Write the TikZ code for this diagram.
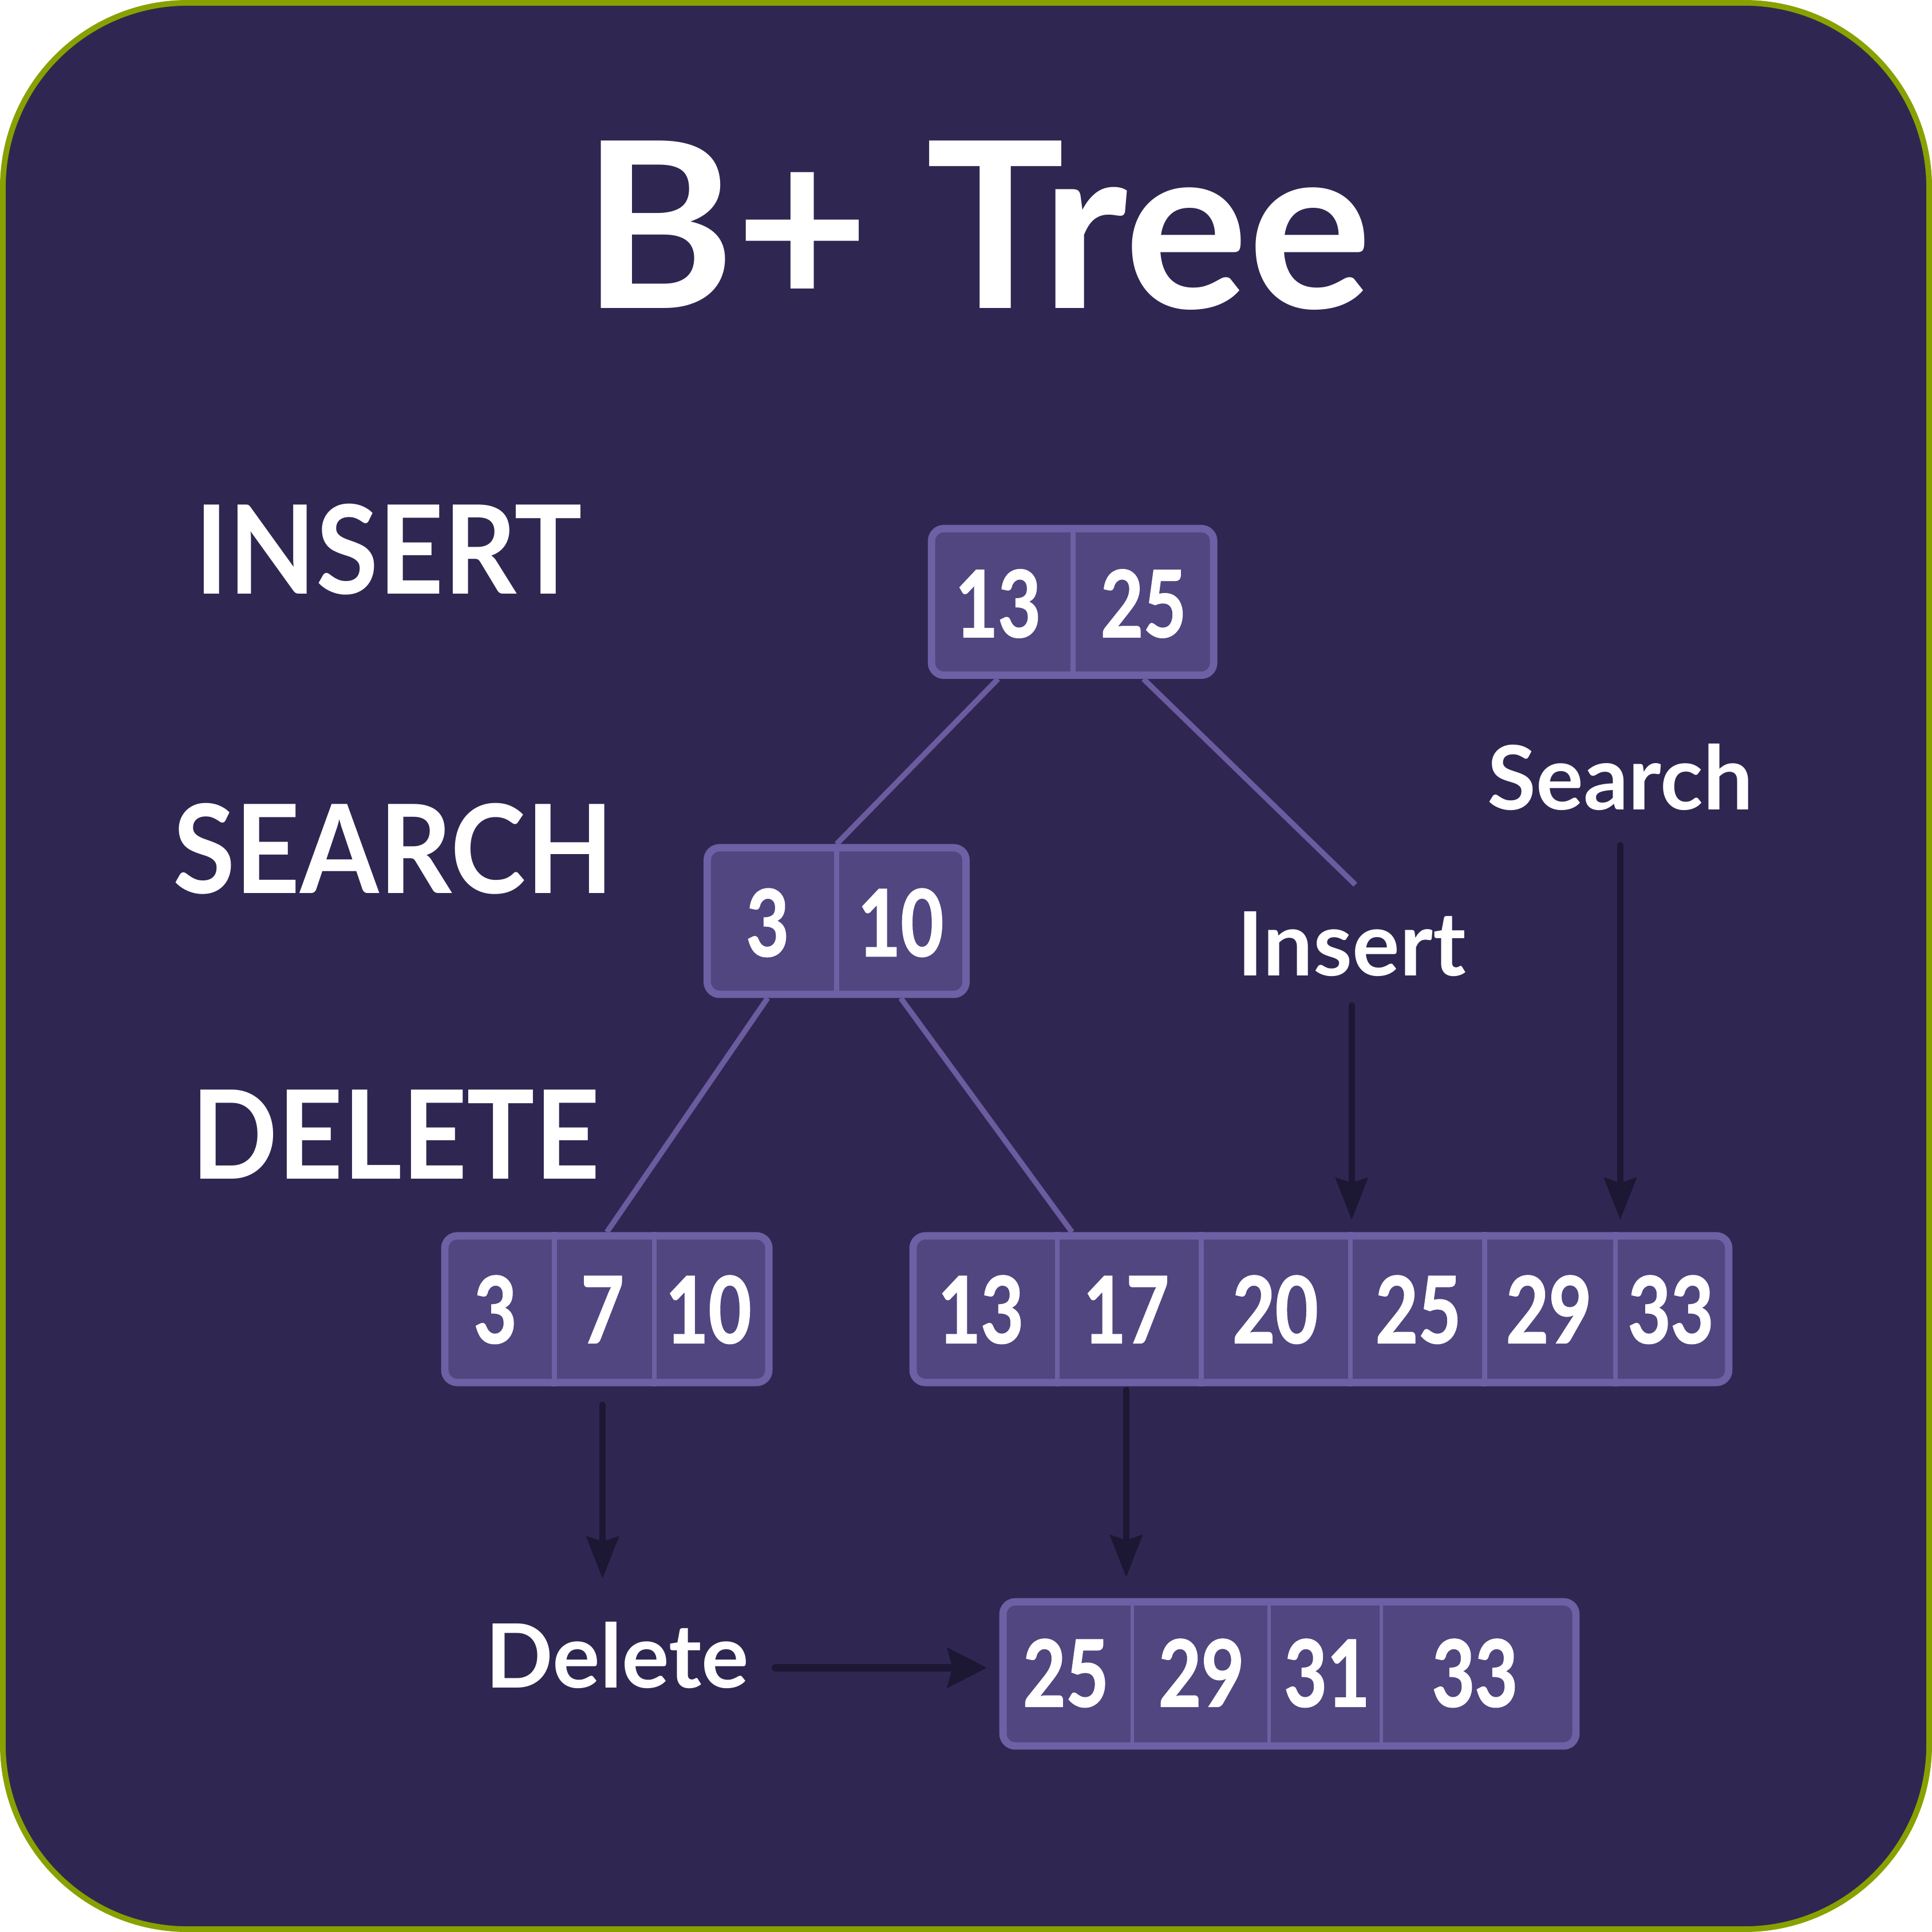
\documentclass[tikz,border=0pt]{standalone}
\usepackage{fontspec}
\setmainfont{Lato}
\newfontfamily\digitfont{Lato}[FakeStretch=0.8, FakeBold=1.2]
\newfontfamily\capsfont{Lato}[FakeStretch=0.92]
\usetikzlibrary{calc,arrows.meta}
\definecolor{bgcol}{HTML}{2F2752}
\definecolor{olive}{HTML}{88A100}
\definecolor{nodefill}{HTML}{524680}
\definecolor{nodeedge}{HTML}{6E60A4}
\definecolor{treecol}{HTML}{6A5C9E}
\definecolor{arrcol}{HTML}{1C1733}
\tikzset{
  keybox/.style={draw=nodeedge, line width=3pt, fill=nodefill, rounded corners=5pt, inner sep=0pt, minimum height=59.5pt},
  keytext/.style={text=white, font=\digitfont\bfseries\fontsize{37.5}{40}\selectfont, anchor=base, inner sep=0pt},
  divider/.style={draw=nodeedge, line width=2pt},
  tline/.style={draw=treecol, line width=2.2pt},
  vArr/.style={draw=arrcol, line width=2.5pt, line cap=round, -{Stealth[length=17pt, width=13pt, inset=2pt]}},
  hArr/.style={draw=arrcol, line width=3pt, line cap=round, -{Stealth[length=16pt, width=16pt, inset=2pt]}},
  bigcaps/.style={text=white, font=\capsfont\bfseries\fontsize{50}{55}\selectfont, inner sep=0pt},
  oplabel/.style={text=white, font=\bfseries\fontsize{36}{40}\selectfont, inner sep=0pt, anchor=base},
}
\begin{document}
\begin{tikzpicture}[x=0.5pt, y=-0.5pt]
\useasboundingbox (0,0) rectangle (1568,1568);
\fill[white] (0,0) rectangle (1568,1568);
\draw[draw=olive, fill=bgcol, line width=2.3pt, rounded corners=75pt] (2.3,2.3) rectangle (1565.7,1565.7);

% title and side labels
\node[text=white, font=\bfseries\fontsize{94}{100}\selectfont, inner sep=0pt, anchor=base] (title) at (793,250) {B+ Tree};
\node[bigcaps, anchor=base west] (lins) at (158,482) {INSERT};
\node[bigcaps, anchor=base west] (lsea) at (140,725) {SEARCH};
\node[bigcaps, anchor=base west] (ldel) at (155,957) {DELETE};

% root
\node[keybox, minimum width=114.5pt] (root) at (870.5,488.5) {};
\draw[divider] (871,0 |- root.north) -- (871,0 |- root.south);
\node[keytext] (r13) at (810,517) {13};
\node[keytext] (r25) at (928,517) {25};

% internal
\node[keybox, minimum width=105pt] (int) at (679,747.5) {};
\draw[divider] (679,0 |- int.north) -- (679,0 |- int.south);
\node[keytext] (i3) at (623,776) {3};
\node[keytext] (i10) at (731,776) {10};

% leaf 1
\node[keybox, minimum width=131.5pt] (leaf1) at (492.5,1062.5) {};
\foreach \x in {450,531} \draw[divider] (\x,0 |- leaf1.north) -- (\x,0 |- leaf1.south);
\node[keytext] (la3) at (402,1090) {3};
\node[keytext] (la7) at (489,1090) {7};
\node[keytext] (la10) at (575,1090) {10};

% leaf 2
\node[keybox, minimum width=331pt] (leaf2) at (1072,1062.5) {};
\foreach \x in {858,975,1096,1205,1311} \draw[divider] (\x,0 |- leaf2.north) -- (\x,0 |- leaf2.south);
\node[keytext] (lb13) at (796,1090) {13};
\node[keytext] (lb17) at (914,1090) {17};
\node[keytext] (lb20) at (1035,1090) {20};
\node[keytext] (lb25) at (1151,1090) {25};
\node[keytext] (lb29) at (1257,1090) {29};
\node[keytext] (lb33) at (1356,1090) {33};

% bottom node
\node[keybox, minimum width=232.5pt, minimum height=58.5pt] (bot) at (1046.5,1358.5) {};
\foreach \x in {919,1030,1121} \draw[divider, line width=1.5pt] (\x,0 |- bot.north) -- (\x,0 |- bot.south);
\node[keytext] (c25) at (865,1385) {25};
\node[keytext] (c29) at (975,1385) {29};
\node[keytext] (c31) at (1077,1385) {31};
\node[keytext] (c33) at (1197,1385) {33};

% operation labels
\node[oplabel] (srch) at (1315,657) {Search};
\node[oplabel] (ins) at (1097,792) {Insert};
\node[oplabel] (del) at (501,1370) {Delete};

% tree lines
\coordinate (insend) at (1100,718);
\draw[tline] (r13 |- root.south) -- (int.north);
\draw[tline] (r25 |- root.south) -- (insend);
\draw[tline] (i3 |- int.south) -- (leaf1.north);
\draw[tline] (i10 |- int.south) -- ($(leaf2.north west)+(132,0)$);

% arrows
\draw[vArr, shorten <=11.5pt, shorten >=5pt] (ins.south) -- (ins.south |- leaf2.north);
\draw[vArr, shorten <=14pt, shorten >=5pt] (srch.south) -- (srch.south |- leaf2.north);
\draw[vArr, shorten <=7.5pt] (la7 |- leaf1.south) -- ($(la7 |- del.north)+(0,-35)$);
\draw[vArr, shorten <=1.5pt, shorten >=8.5pt] (lb17 |- leaf2.south) -- (lb17 |- bot.north);
\draw[hArr] ($(del.east)+(21,10)$) -- ($(del.east -| bot.west)+(-10,10)$);
\end{tikzpicture}
\end{document}
